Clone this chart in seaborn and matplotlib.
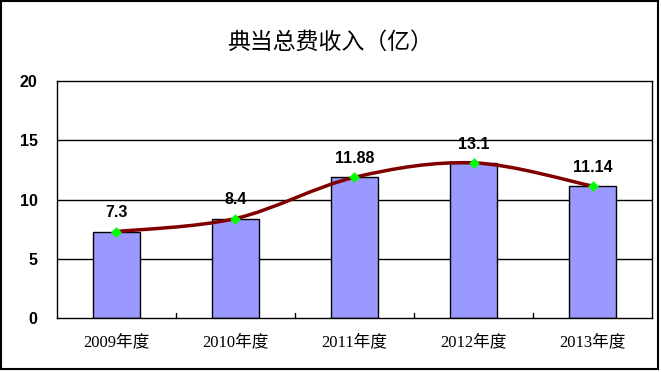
import numpy as np
import pandas as pd
import seaborn as sns
import matplotlib.pyplot as plt
from matplotlib.path import Path
from matplotlib.patches import PathPatch, Rectangle

categories = ["2009年度", "2010年度", "2011年度", "2012年度", "2013年度"]
values = [7.3, 8.4, 11.88, 13.1, 11.14]
labels = ["7.3", "8.4", "11.88", "13.1", "11.14"]
title = "典当总费收入（亿）"

sns.set_theme(style="white")
plt.rcParams['font.family'] = ['Liberation Sans', 'Noto Sans CJK SC', 'DejaVu Sans']
plt.rcParams['text.color'] = 'black'
plt.rcParams['xtick.color'] = 'black'
plt.rcParams['ytick.color'] = 'black'

fig = plt.figure(figsize=(6.61, 3.72), dpi=100)
ax = fig.add_axes([0.0862, 0.145, 0.9002, 0.637])

df = pd.DataFrame({"cat": categories, "val": values})
sns.barplot(data=df, x="cat", y="val", color="#9999FF", saturation=1,
            width=0.39, edgecolor="black", linewidth=1, ax=ax, zorder=2)

# smoothed line (Catmull-Rom style bezier, like Excel's smoothing)
xs = np.arange(len(values), dtype=float)
ys = np.array(values, dtype=float)
verts = [(xs[0], ys[0])]
codes = [Path.MOVETO]
n = len(xs)
for i in range(n - 1):
    p0 = (xs[max(i - 1, 0)], ys[max(i - 1, 0)])
    p1 = (xs[i], ys[i])
    p2 = (xs[i + 1], ys[i + 1])
    p3 = (xs[min(i + 2, n - 1)], ys[min(i + 2, n - 1)])
    c1 = (p1[0] + (p2[0] - p0[0]) / 6, p1[1] + (p2[1] - p0[1]) / 6)
    c2 = (p2[0] - (p3[0] - p1[0]) / 6, p2[1] - (p3[1] - p1[1]) / 6)
    verts += [c1, c2, p2]
    codes += [Path.CURVE4] * 3
ax.add_patch(PathPatch(Path(verts, codes), facecolor="none", edgecolor="#800000",
                       linewidth=2.5, zorder=3))
ax.scatter(xs, ys, marker="D", s=30, color="#00FF00", zorder=4, linewidths=0)

for x, y, t in zip(xs, ys, labels):
    ax.annotate(t, (x, y), xytext=(0, 8), textcoords="offset points",
                ha="center", va="bottom", fontsize=11.5, fontweight="bold",
                color="black", zorder=5)

ax.set_ylim(0, 20)
ax.set_xlim(-0.5, n - 0.5)
ax.set_yticks([0, 5, 10, 15, 20])
ax.set_yticklabels(["0", "5", "10", "15", "20"], fontsize=11.5, fontweight="bold")
ax.set_xticks(xs)
ax.set_xticklabels(categories, fontsize=12,
                   fontfamily=['Liberation Serif', 'Noto Sans CJK SC'])
ax.tick_params(axis="x", length=0, pad=12)
ax.tick_params(axis="y", length=0, pad=14)
for x in np.arange(0.5, n - 1, 1.0):
    ax.plot([x, x], [0, 0.45], color="black", lw=1, zorder=1)
ax.set_xlabel("")
ax.set_ylabel("")
for y in [5, 10, 15]:
    ax.axhline(y, color="black", lw=1, zorder=1)
for s in ax.spines.values():
    s.set_visible(True)
    s.set_color("black")
    s.set_linewidth(1)

fig.text(0.5, 0.885, title, ha="center", va="center", fontsize=16.5,
         color="black", fontfamily=['Noto Sans CJK SC', 'DejaVu Sans'])
fig.patches.append(Rectangle((0.002, 0.008), 0.994, 0.988, transform=fig.transFigure,
                             fill=False, edgecolor="black", linewidth=1.5))

fig.savefig("out.png", dpi=100)
